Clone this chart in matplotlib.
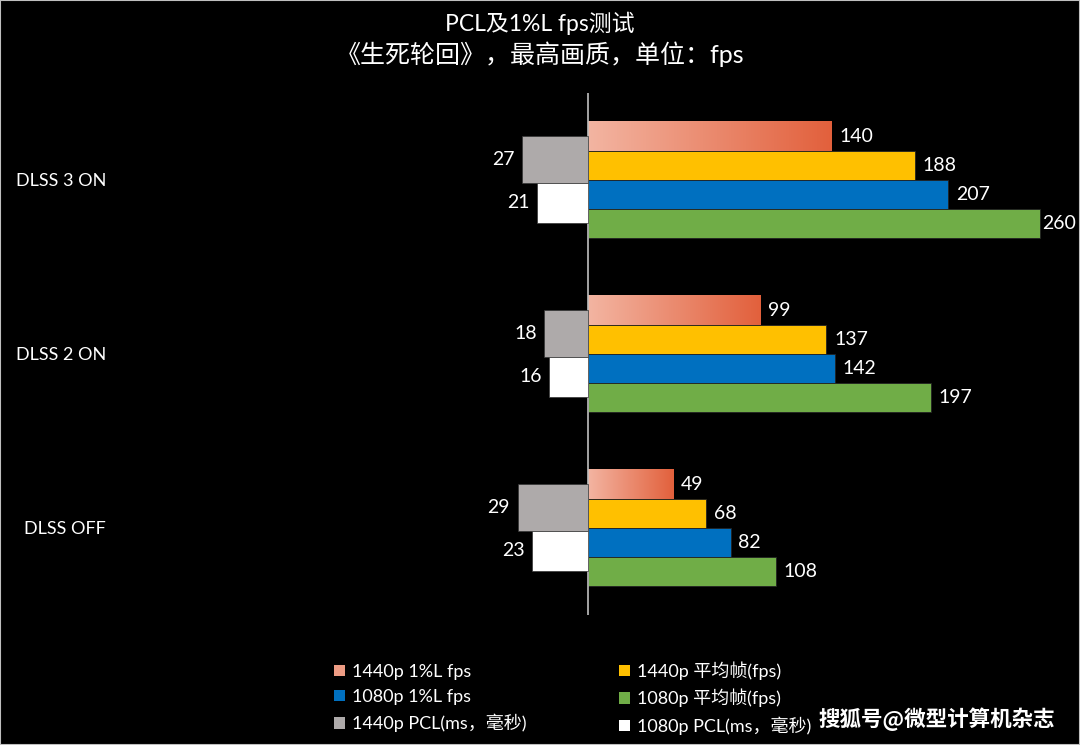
import numpy as np
import matplotlib
matplotlib.use("Agg")
import matplotlib.pyplot as plt
from matplotlib.colors import LinearSegmentedColormap
from matplotlib.patches import Patch, Rectangle

plt.rcParams['font.family'] = ['Lato', 'Noto Sans CJK SC', 'DejaVu Sans']

categories = ['DLSS 3 ON', 'DLSS 2 ON', 'DLSS OFF']
fps_1440_low = [140, 99, 49]
fps_1440_avg = [188, 137, 68]
fps_1080_low = [207, 142, 82]
fps_1080_avg = [260, 197, 108]
pcl_1440 = [27, 18, 29]
pcl_1080 = [21, 16, 23]

legend_labels = ['1440p 1%L fps', '1440p 平均帧(fps)', '1080p 1%L fps',
                 '1080p 平均帧(fps)', '1440p PCL(ms，毫秒)', '1080p PCL(ms，毫秒)']

grad_left = '#F3B5A2'
grad_right = '#E2603C'
c_gold = '#FFC000'
c_blue = '#0070C0'
c_green = '#70AD47'
c_gray = '#AEAAAA'
c_white = '#FFFFFF'

fig = plt.figure(figsize=(10.8, 7.45), dpi=100, facecolor='black')
W, H = 1080, 745
ax = fig.add_axes([10 / W, 1 - 615 / H, 1060 / W, 522 / H])
ax.set_facecolor('black')
ax2 = ax.twiny()

y = np.arange(len(categories))
h = 0.168
vmax = max(fps_1080_avg)


def label_fps(v, yc):
    # the longest bar gets its label squeezed in next to the edge
    off = 1.5 if v == vmax else 5.5
    ax.annotate(str(v), (v, yc), xytext=(off, 0), textcoords='offset points',
                ha='left', va='center', color='white', fontsize=14)


# fps bars (right side)
cmap = LinearSegmentedColormap.from_list('grad', [grad_left, grad_right])
grad = np.linspace(0, 1, 256).reshape(1, -1)
for i, v in enumerate(fps_1440_low):
    yc = y[i] - 1.5 * h
    ax.imshow(grad, extent=[0, v, yc + h / 2, yc - h / 2], aspect='auto',
              cmap=cmap, interpolation='bilinear', zorder=2)
    label_fps(v, yc)

for k, (vals, col) in enumerate([(fps_1440_avg, c_gold), (fps_1080_low, c_blue),
                                  (fps_1080_avg, c_green)], start=1):
    yy = y + (k - 1.5) * h
    ax.barh(yy, vals, height=h, color=col, edgecolor='#222222', linewidth=0.6, zorder=2)
    for yi, v in zip(yy, vals):
        label_fps(v, yi)

# PCL bars (left side, own scale)
pcl_specs = [(pcl_1440, c_gray, -0.118, 0.27), (pcl_1080, c_white, 0.132, 0.23)]
for vals, col, off, hh in pcl_specs:
    yy = y + off
    ax2.barh(yy, [-v for v in vals], height=hh, color=col, edgecolor='#333333',
             linewidth=0.5, zorder=2)
    for yi, v in zip(yy, vals):
        ax2.annotate(str(v), (-v, yi), xytext=(-5.5, 0), textcoords='offset points',
                     ha='right', va='center', color='white', fontsize=14)

ax.set_xlim(-(588 - 10) / 1.74, (1070 - 588) / 1.74)
ax2.set_xlim(-(588 - 10) / 2.43, (1070 - 588) / 2.43)
ax.set_ylim(2.5, -0.5)
ax.axvline(0, color='#BFBFBF', linewidth=1.2, zorder=3)

for a in (ax, ax2):
    for s in a.spines.values():
        s.set_visible(False)
    a.set_xticks([])
    a.set_yticks([])

# category labels
for i, c in enumerate(categories):
    fig.text(106 / W, 1 - (94 + (i + 0.5) * 174) / H, c, ha='right', va='center',
             color='white', fontsize=13)

# title
fig.text(0.5, 1 - 23 / H, 'PCL及1%L fps测试', ha='center', va='center',
         color='white', fontsize=16.5)
fig.text(0.5, 1 - 54 / H, '《生死轮回》，最高画质，单位：fps', ha='center', va='center',
         color='white', fontsize=18)

# legend
colors = ['#EE9C84', c_gold, c_blue, c_green, c_gray, c_white]
handles = [Patch(facecolor=c, edgecolor='none') for c in colors]
order = [0, 2, 4, 1, 3, 5]
leg = fig.legend([handles[i] for i in order], [legend_labels[i] for i in order],
                 ncol=2, loc='upper left', bbox_to_anchor=(318 / W, 1 - 645 / H),
                 frameon=False, fontsize=13, labelcolor='white',
                 handlelength=0.6, handleheight=0.6, handletextpad=0.4,
                 columnspacing=5.1, labelspacing=0.5)

# watermark
fig.text(1055 / W, 1 - 719 / H, '搜狐号@微型计算机杂志', ha='right', va='center',
         color='white', fontsize=15.5, fontweight='bold', family=['Noto Sans CJK SC'])

fig.patches.append(Rectangle((0, 0), 1, 1, transform=fig.transFigure, fill=False,
                             edgecolor='#BFBFBF', linewidth=1.5))

fig.savefig('out.png', dpi=100, facecolor='black')
